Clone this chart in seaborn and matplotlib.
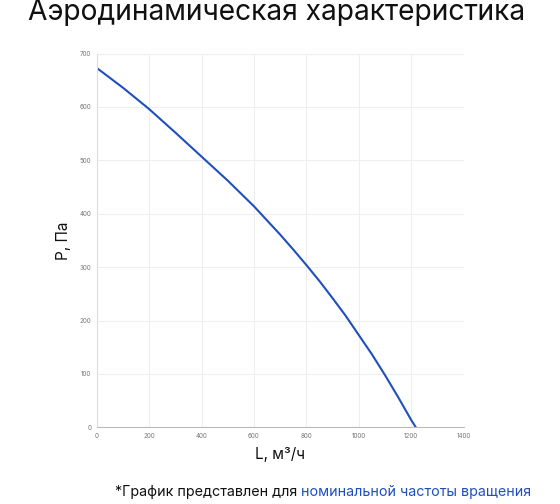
import numpy as np
import pandas as pd
import seaborn as sns
import matplotlib.pyplot as plt

# аэродинамическая характеристика, значения
flow = [0, 100, 200, 300, 400, 500, 600, 700, 750, 800, 850, 900, 950, 1000,
        1050, 1100, 1150, 1200, 1218]
pressure = [673, 636, 596, 552, 507, 462, 414, 361, 333, 304, 274, 242, 209, 173,
            137, 98, 57, 14, 0]
x_ticks = [0, 200, 400, 600, 800, 1000, 1200, 1400]
y_ticks = [0, 100, 200, 300, 400, 500, 600, 700]

df = pd.DataFrame({'L': flow, 'P': pressure})

sns.set_theme(style='white')
plt.rcParams['font.family'] = ['Inter', 'DejaVu Sans']

fig = plt.figure(figsize=(5.6, 5.04), dpi=100)
ax = fig.add_axes([96.7 / 560, 1 - 427.3 / 504, (463.5 - 96.7) / 560, (427.3 - 53.5) / 504])

sns.lineplot(data=df, x='L', y='P', ax=ax, color='#1f4fbf', linewidth=1.5)

ax.set_xlim(0, 1400)
ax.set_ylim(0, 700)
ax.set_xticks(x_ticks)
ax.set_yticks(y_ticks)
ax.tick_params(labelsize=4.5, labelcolor='#777777', length=2, color='#cccccc', pad=2)
ax.grid(True, color='#eeeeee', linewidth=0.8)
for side in ['top', 'right']:
    ax.spines[side].set_visible(False)
ax.spines['left'].set_color('#dddddd')
ax.spines['bottom'].set_color('#bbbbbb')
ax.spines['left'].set_linewidth(0.8)
ax.spines['bottom'].set_linewidth(0.8)

ax.set_xlabel('L, м³/ч', fontsize=11, labelpad=6, color='#111111')
ax.set_ylabel('P, Па', fontsize=11, labelpad=6, color='#111111')

fig.text(28 / 560, 1 - 12 / 504, 'Аэродинамическая характеристика', fontsize=20.3,
         va='center', ha='left', color='#111111')

# сноска в две краски
t1 = fig.text(115 / 560, 1 - 492 / 504, '*График представлен для ', fontsize=10.3,
              va='center', ha='left', color='#111111')
fig.canvas.draw()
bb = t1.get_window_extent()
fig.text(bb.x1 / fig.bbox.width, 1 - 492 / 504, 'номинальной частоты вращения', fontsize=10.3,
         va='center', ha='left', color='#1f4fbf')

fig.savefig('out.png', dpi=100)
